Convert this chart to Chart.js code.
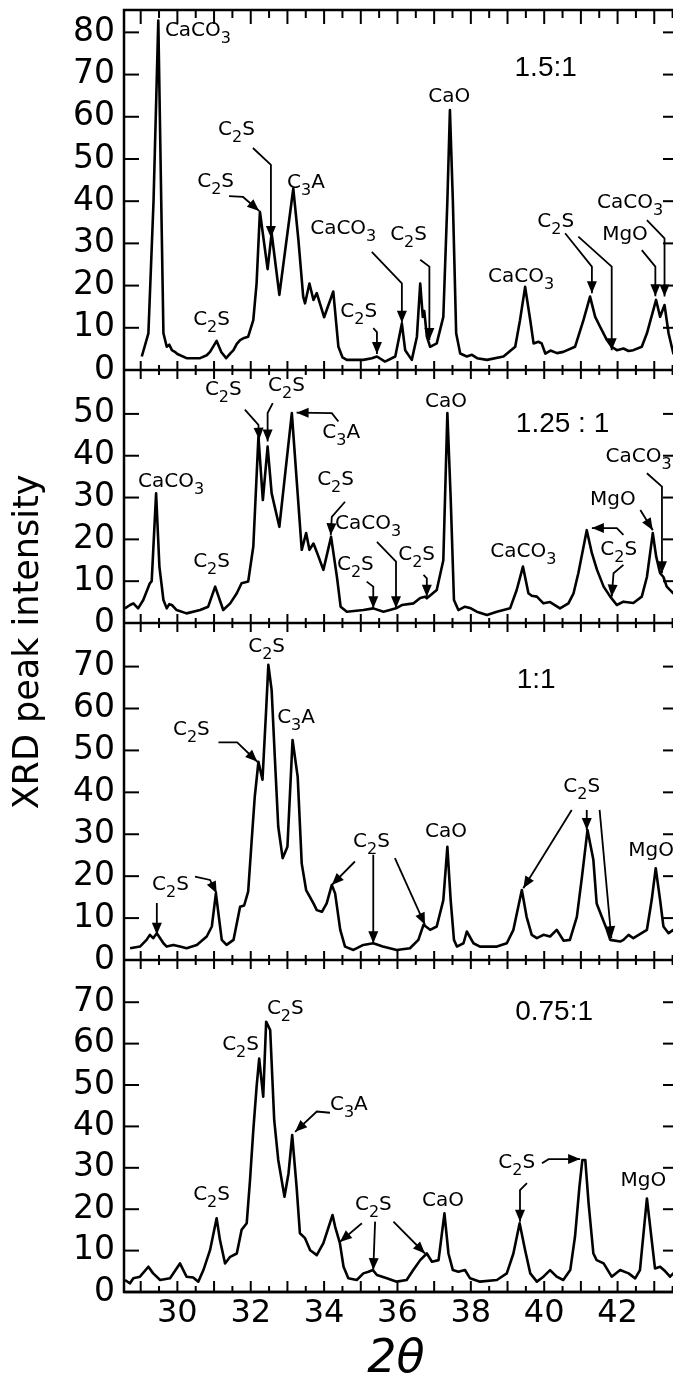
<!DOCTYPE html>
<html>
<head>
<meta charset="utf-8">
<script src="https://cdn.jsdelivr.net/npm/chart.js@4.4.1/dist/chart.umd.min.js"></script>
<style>
html, body { margin: 0; padding: 0; background: #fff; overflow: hidden; }
#wrap { position: relative; width: 673px; height: 1383px; overflow: hidden; }
canvas { position: absolute; left: 0; top: 0; }
</style>
</head>
<body>
<div id="wrap"><canvas id="chart" width="680" height="1383"></canvas></div>
<script>
// 2theta tick labels (bottom axis) and intensity ticks per panel
var xLabels = [30, 32, 34, 36, 38, 40, 42];
var ticksA = [0, 10, 20, 30, 40, 50, 60, 70, 80];
var ticksB = [0, 10, 20, 30, 40, 50];
var ticksC = [0, 10, 20, 30, 40, 50, 60, 70];
var ticksD = [0, 10, 20, 30, 40, 50, 60, 70];

// 1.5:1
var xA = [29.03, 29.21, 29.35, 29.48, 29.56, 29.62, 29.71, 29.78, 29.85, 29.93, 30.0, 30.25, 30.62, 30.80, 30.89, 31.07, 31.20, 31.33, 31.45, 31.53, 31.62, 31.71, 31.82, 31.93, 32.07, 32.16, 32.25, 32.46, 32.57, 32.78, 33.16, 33.30, 33.43, 33.48, 33.60, 33.71, 33.80, 34.0, 34.25, 34.39, 34.50, 34.62, 35.07, 35.30, 35.44, 35.66, 35.94, 36.12, 36.21, 36.39, 36.53, 36.62, 36.69, 36.73, 36.80, 36.89, 37.07, 37.25, 37.36, 37.43, 37.51, 37.60, 37.71, 37.89, 38.03, 38.17, 38.44, 38.89, 39.21, 39.34, 39.48, 39.62, 39.71, 39.84, 39.93, 40.03, 40.17, 40.35, 40.52, 40.84, 41.07, 41.25, 41.39, 41.52, 41.71, 41.84, 41.98, 42.16, 42.30, 42.43, 42.66, 42.80, 43.05, 43.16, 43.28, 43.39, 43.52, 43.62];
var yA = [3.2, 8.7, 40, 82.8, 40, 8.7, 5.5, 6.0, 4.7, 4.3, 3.8, 2.8, 2.8, 3.5, 4.3, 6.9, 4.2, 2.8, 4.0, 4.7, 6.2, 7.1, 7.6, 7.9, 11.8, 20.6, 37.5, 23.9, 32.4, 17.8, 43, 30.8, 17.4, 15.8, 20.5, 16.6, 18.2, 12.5, 18.6, 5.5, 3.0, 2.4, 2.4, 2.8, 3.2, 2.0, 3.2, 11, 4.7, 2.4, 7.9, 20.5, 12.6, 14, 8, 5.5, 6.3, 12.6, 40, 61.6, 40, 8.7, 3.9, 3.2, 3.6, 2.8, 2.4, 3.2, 5.5, 11.8, 19.7, 11.8, 6.3, 6.7, 6.3, 3.9, 4.6, 4.0, 4.3, 5.5, 11.8, 17.4, 12.6, 10.3, 7.1, 5.5, 4.7, 5.1, 4.5, 4.7, 5.5, 8.7, 16.6, 12.6, 15.4, 8.7, 3.9, 3.5];

// 1.25:1
var xB = [28.57, 28.71, 28.80, 28.93, 29.07, 29.25, 29.30, 29.42, 29.51, 29.62, 29.71, 29.78, 29.85, 29.98, 30.25, 30.62, 30.84, 31.03, 31.25, 31.44, 31.62, 31.75, 31.93, 32.07, 32.21, 32.33, 32.46, 32.57, 32.78, 33.12, 33.39, 33.51, 33.60, 33.71, 33.80, 33.98, 34.19, 34.35, 34.45, 34.62, 35.07, 35.34, 35.62, 35.96, 36.12, 36.44, 36.62, 36.75, 36.80, 37.07, 37.25, 37.36, 37.45, 37.54, 37.66, 37.84, 38.0, 38.16, 38.44, 38.71, 39.07, 39.25, 39.42, 39.57, 39.66, 39.80, 39.98, 40.16, 40.43, 40.66, 40.80, 40.93, 41.16, 41.30, 41.44, 41.62, 41.80, 41.98, 42.16, 42.43, 42.66, 42.80, 42.96, 43.05, 43.16, 43.25, 43.34, 43.52, 43.62];
var yB = [3.5, 4.3, 4.7, 3.5, 5.5, 9.5, 10, 31, 13.5, 5.5, 3.5, 4.5, 4.3, 3.1, 2.3, 3.1, 3.9, 8.7, 3.1, 4.7, 7.1, 9.5, 9.9, 18.3, 44.6, 29.4, 42.2, 31, 23, 50.2, 17.5, 21.5, 17.5, 19, 17, 12.7, 20.6, 11, 3.9, 2.7, 3.1, 3.5, 2.7, 3.5, 4.3, 4.7, 6.0, 6.3, 5.9, 7.9, 15, 50.2, 30, 5.5, 3.1, 3.9, 3.5, 2.7, 1.9, 2.7, 3.5, 7.9, 13.5, 7.1, 6.5, 6.3, 4.7, 5.0, 3.5, 4.7, 7.1, 11.9, 22.2, 16.7, 12.7, 8.7, 6.3, 4.3, 5.1, 4.8, 6.3, 11, 21.5, 16, 11.9, 11, 8.7, 7.1, 6.8];

// 1:1
var xC = [28.71, 28.98, 29.16, 29.25, 29.34, 29.44, 29.62, 29.71, 29.89, 30.07, 30.25, 30.53, 30.80, 30.94, 31.05, 31.21, 31.34, 31.53, 31.71, 31.82, 31.93, 32.02, 32.11, 32.21, 32.32, 32.42, 32.48, 32.57, 32.66, 32.75, 32.87, 33.00, 33.14, 33.28, 33.39, 33.51, 33.71, 33.80, 33.94, 34.07, 34.21, 34.30, 34.44, 34.57, 34.80, 35.07, 35.34, 35.60, 35.98, 36.34, 36.57, 36.71, 36.89, 37.07, 37.25, 37.36, 37.45, 37.54, 37.62, 37.80, 37.89, 38.07, 38.25, 38.71, 38.98, 39.16, 39.39, 39.52, 39.66, 39.80, 39.98, 40.16, 40.34, 40.53, 40.70, 40.89, 41.03, 41.18, 41.34, 41.43, 41.57, 41.71, 41.80, 42.07, 42.16, 42.30, 42.43, 42.80, 42.93, 43.04, 43.16, 43.25, 43.39, 43.52, 43.62];
var yC = [2.8, 3.2, 4.8, 6, 5.2, 6.4, 4, 3.2, 3.6, 3.2, 2.8, 3.6, 5.6, 8, 15.9, 4.8, 3.6, 4.8, 12.7, 13, 16.3, 27.8, 39, 47.3, 43, 59.7, 70.4, 64.4, 47.7, 31.8, 24.3, 27, 52.5, 43.7, 23, 16.7, 13.5, 11.9, 11.5, 13.5, 17.9, 15.9, 7.2, 3.2, 2.4, 3.6, 4, 3.2, 2.4, 2.8, 4.8, 8.4, 7.2, 8, 14.3, 27, 14.3, 4.8, 3.2, 4, 6.8, 4, 3.2, 3.2, 4, 7.2, 16.7, 10.3, 6, 5.2, 6.0, 5.6, 7.2, 4.6, 4.8, 10.3, 19.9, 31, 23.9, 13.5, 10.3, 7.2, 4.8, 4.4, 4.8, 6, 5.2, 7.2, 14.3, 21.9, 14.3, 8, 6.4, 7.2, 6.5];

// 0.75:1
var xD = [28.57, 28.71, 28.80, 28.98, 29.21, 29.34, 29.53, 29.80, 30.07, 30.25, 30.43, 30.57, 30.71, 30.89, 31.07, 31.16, 31.30, 31.44, 31.62, 31.75, 31.89, 31.98, 32.07, 32.16, 32.23, 32.34, 32.42, 32.53, 32.64, 32.75, 32.92, 33.03, 33.13, 33.25, 33.34, 33.48, 33.62, 33.80, 33.98, 34.23, 34.30, 34.43, 34.53, 34.66, 34.89, 35.07, 35.21, 35.33, 35.44, 35.71, 35.98, 36.25, 36.43, 36.62, 36.80, 36.94, 37.12, 37.28, 37.39, 37.51, 37.66, 37.84, 37.98, 38.25, 38.71, 38.98, 39.16, 39.33, 39.48, 39.62, 39.80, 39.98, 40.16, 40.34, 40.52, 40.71, 40.84, 40.96, 41.04, 41.12, 41.21, 41.34, 41.43, 41.62, 41.84, 42.07, 42.30, 42.48, 42.61, 42.80, 42.93, 43.02, 43.16, 43.30, 43.43, 43.52, 43.62];
var yD = [2.9, 2.1, 3.3, 3.7, 6.1, 4.5, 2.9, 3.3, 6.9, 3.7, 3.5, 2.5, 5.3, 10.1, 17.8, 12.6, 6.9, 8.5, 9.3, 15, 16.6, 27, 39.1, 49.6, 56.4, 47.2, 65.3, 63.3, 41.5, 31.9, 23, 28.7, 37.9, 25.4, 14.2, 13, 10.1, 8.9, 11.8, 18.6, 15.8, 11.8, 6.1, 3.3, 2.9, 4.5, 4.9, 5.3, 4.1, 3.3, 2.5, 2.9, 5.3, 7.7, 9.3, 7.3, 7.7, 19, 9.3, 5.3, 4.9, 5.3, 3.3, 2.5, 2.9, 4.5, 9.3, 16.6, 10.1, 4.5, 2.5, 3.7, 5.3, 3.7, 2.9, 5.3, 13.4, 25.4, 31.9, 31.9, 21.4, 9.3, 7.7, 6.9, 3.7, 5.3, 4.5, 3.3, 5.3, 22.6, 12.6, 5.7, 6.1, 5.0, 3.7, 4.5, 4.0];

// phase labels [text, 2theta, intensity] and arrows (lists of points), per panel
var notesA = [['CaCO3', 29.66, 80.3], ['C2S', 30.43, 11.8], ['C2S', 30.54, 44.5], ['C2S', 31.11, 56.9], ['C3A', 32.99, 44.3], ['CaCO3', 33.62, 33.4], ['C2S', 34.44, 13.7], ['C2S', 35.80, 32], ['CaO', 36.84, 64.7], ['CaCO3', 38.47, 22], ['C2S', 39.81, 35], ['MgO', 41.58, 32], ['CaCO3', 41.44, 39.6]];
var arrowsA = [
  [[31.41, 41.2], [31.79, 41], [32.23, 37.7]],
  [[32.06, 52.6], [32.55, 48.6], [32.55, 31.3]],
  [[35.30, 28.0], [36.12, 20.5], [36.12, 11.2]],
  [[35.34, 9.9], [35.44, 9.0], [35.44, 3.8]],
  [[36.62, 26.1], [36.87, 24.5], [36.87, 7.1]],
  [[40.57, 32.4], [41.30, 24.5], [41.30, 18.2]],
  [[40.93, 31.6], [41.84, 24.5], [41.84, 4.7]],
  [[42.66, 28.4], [43.03, 24.5], [43.03, 17.5]],
  [[42.80, 35.5], [43.28, 31.2], [43.28, 17.4]]
];
var notesB = [['CaCO3', 28.93, 33.7], ['C2S', 30.43, 14.6], ['C2S', 30.75, 55.7], ['C2S', 32.47, 56.7], ['C3A', 33.95, 45.5], ['C2S', 33.81, 34.2], ['CaCO3', 34.30, 23.7], ['C2S', 34.35, 13.9], ['C2S', 36.02, 16.3], ['CaO', 36.75, 53], ['CaCO3', 38.53, 17], ['C2S', 41.53, 17.5], ['MgO', 41.25, 29.4], ['CaCO3', 41.67, 39.7]];
var arrowsB = [
  [[31.84, 51], [32.21, 47.4], [32.23, 43.8]],
  [[32.60, 52.6], [32.46, 50.2], [32.46, 43.4]],
  [[34.39, 48.2], [34.21, 50.2], [33.25, 50.3]],
  [[34.57, 29], [34.21, 25.4], [34.18, 21]],
  [[35.44, 19.4], [35.96, 14.7], [35.96, 3.5]],
  [[35.16, 9.9], [35.34, 8.7], [35.34, 3.5]],
  [[36.71, 11.5], [36.80, 10.7], [36.80, 6.3]],
  [[42.16, 21.1], [41.98, 22.7], [41.30, 22.7]],
  [[42.16, 13.9], [41.89, 11.9], [41.84, 6.3]],
  [[42.62, 27], [42.96, 22.2]],
  [[42.80, 35.8], [43.21, 32.6], [43.21, 11.9]]
];
var notesC = [['C2S', 31.93, 74.7], ['C2S', 29.88, 54.9], ['C3A', 32.72, 57.8], ['C2S', 29.31, 17.9], ['C2S', 34.79, 28.2], ['CaO', 36.75, 30.5], ['C2S', 40.52, 41.3], ['MgO', 42.29, 26]];
var arrowsC = [
  [[31.12, 51.9], [31.63, 51.9], [32.18, 47.3]],
  [[29.44, 13.6], [29.44, 6.0]],
  [[30.48, 19.9], [30.89, 19.1], [31.07, 15.9]],
  [[34.84, 23.5], [34.21, 17.9]],
  [[35.34, 25.1], [35.34, 4.0]],
  [[35.93, 24.3], [36.75, 8.4]],
  [[40.75, 35.8], [39.43, 17.1]],
  [[41.16, 35.8], [41.16, 31]],
  [[41.51, 35.8], [41.83, 5.2]]
];
var notesD = [['C2S', 32.44, 68.4], ['C2S', 31.22, 59.7], ['C3A', 34.16, 45.2], ['C2S', 30.43, 23.4], ['C2S', 34.84, 21], ['CaO', 36.67, 22], ['C2S', 38.75, 31.2], ['MgO', 42.08, 26.8]];
var arrowsD = [
  [[34.16, 43.3], [33.80, 43.6], [33.21, 38.7]],
  [[35.03, 16.6], [34.43, 12.1]],
  [[35.39, 17], [35.34, 5.3]],
  [[35.89, 17], [36.75, 9.3]],
  [[39.53, 26.3], [39.34, 24.6], [39.34, 17]],
  [[39.94, 31.1], [40.12, 32.1], [40.98, 32.1]]
];

var panels = [
  { id: 'yA', ratio: '1.5:1', rx: 40.04, ry: 71.6, ticks: ticksA, notes: notesA, arrows: arrowsA },
  { id: 'yB', ratio: '1.25 : 1', rx: 40.50, ry: 47.6, ticks: ticksB, notes: notesB, arrows: arrowsB },
  { id: 'yC', ratio: '1:1', rx: 39.78, ry: 66.8, ticks: ticksC, notes: notesC, arrows: arrowsC },
  { id: 'yD', ratio: '0.75:1', rx: 40.27, ry: 67.6, ticks: ticksD, notes: notesD, arrows: arrowsD }
];

function pts(xs, ys) {
  return xs.map(function (x, i) { return { x: x, y: ys[i] }; });
}

function line(ctx, x1, y1, x2, y2) {
  ctx.beginPath(); ctx.moveTo(x1, y1); ctx.lineTo(x2, y2); ctx.stroke();
}

// chemical formula with lowered digits
function chem(ctx, text, x, y) {
  var cx = x;
  for (var i = 0; i < text.length; i++) {
    var ch = text[i], sub = /[0-9]/.test(ch);
    ctx.font = (sub ? 16 : 20) + 'px "DejaVu Sans"';
    ctx.fillText(ch, cx, y + (sub ? 8 : 0));
    cx += ctx.measureText(ch).width;
  }
}

function arrow(ctx, p) {
  ctx.beginPath();
  ctx.moveTo(p[0][0], p[0][1]);
  for (var i = 1; i < p.length; i++) ctx.lineTo(p[i][0], p[i][1]);
  ctx.stroke();
  var a = p[p.length - 2], b = p[p.length - 1];
  var ang = Math.atan2(b[1] - a[1], b[0] - a[0]), L = 12, W = 5;
  ctx.beginPath();
  ctx.moveTo(b[0], b[1]);
  ctx.lineTo(b[0] - L * Math.cos(ang) + W * Math.sin(ang), b[1] - L * Math.sin(ang) - W * Math.cos(ang));
  ctx.lineTo(b[0] - L * Math.cos(ang) - W * Math.sin(ang), b[1] - L * Math.sin(ang) + W * Math.cos(ang));
  ctx.closePath();
  ctx.fill();
}

var frame = {
  id: 'frame',
  afterDatasetsDraw: function (chart) {
    var ctx = chart.ctx, a = chart.chartArea, xs = chart.scales.x;
    ctx.save();
    ctx.strokeStyle = '#000';
    ctx.lineWidth = 2.5;
    ctx.strokeRect(a.left, a.top, a.right - a.left, a.bottom - a.top);
    panels.forEach(function (p) {
      var s = chart.scales[p.id];
      line(ctx, a.left, s.bottom, a.right, s.bottom);
    });
    ctx.lineWidth = 2;
    for (var v = 29; v <= 43.5; v += 0.5) {
      var px = xs.getPixelForValue(v), major = v % 1 === 0;
      line(ctx, px, a.top, px, a.top + (major ? 14 : 8));
      line(ctx, px, a.bottom, px, a.bottom - (major ? 11 : 6));
      for (var k = 0; k < panels.length - 1; k++) {
        var yb = chart.scales[panels[k].id].bottom, h = major ? 9 : 5;
        line(ctx, px, yb - h, px, yb + h);
      }
    }
    panels.forEach(function (p) {
      var s = chart.scales[p.id];
      p.ticks.forEach(function (t) {
        if (!t) return;
        var py = s.getPixelForValue(t);
        line(ctx, a.left, py, a.left + 15, py);
        line(ctx, a.right - 14, py, a.right, py);
      });
    });
    ctx.restore();
  },
  afterDraw: function (chart) {
    var ctx = chart.ctx, xs = chart.scales.x;
    ctx.save();
    ctx.fillStyle = '#000';
    ctx.strokeStyle = '#000';
    ctx.lineWidth = 1.8;
    ctx.textBaseline = 'middle';
    panels.forEach(function (p) {
      var s = chart.scales[p.id];
      ctx.textAlign = 'left';
      p.notes.forEach(function (n) {
        chem(ctx, n[0], xs.getPixelForValue(n[1]), s.getPixelForValue(n[2]));
      });
      p.arrows.forEach(function (ar) {
        arrow(ctx, ar.map(function (q) { return [xs.getPixelForValue(q[0]), s.getPixelForValue(q[1])]; }));
      });
      ctx.textAlign = 'center';
      ctx.font = '28px "Liberation Sans"';
      ctx.fillText(p.ratio, xs.getPixelForValue(p.rx), s.getPixelForValue(p.ry));
    });
    // axis titles
    ctx.textAlign = 'center';
    ctx.font = 'italic 46px "DejaVu Sans"';
    ctx.fillText('2\u03B8', 396, 1360);
    ctx.translate(29, 642);
    ctx.rotate(-Math.PI / 2);
    ctx.font = '35px "DejaVu Sans"';
    ctx.fillText('XRD peak intensity', 0, 0);
    ctx.restore();
  }
};

function yAxis(max, ticks, weight) {
  return {
    type: 'linear', position: 'left', stack: 'xrd', stackWeight: weight,
    min: 0, max: max,
    grid: { display: false, drawTicks: false },
    border: { display: false },
    ticks: { font: { family: 'DejaVu Sans', size: 33 }, color: '#000', padding: 9, autoSkip: false },
    afterBuildTicks: function (s) { s.ticks = ticks.map(function (v) { return { value: v }; }); },
    afterFit: function (s) { s.width = 124; s.paddingTop = 0; s.paddingBottom = 0; }
  };
}

function series(id, xs, ys) {
  return {
    data: pts(xs, ys), xAxisID: 'x', yAxisID: id,
    borderColor: '#000', borderWidth: 2.6, pointRadius: 0,
    tension: 0, borderJoinStyle: 'round', fill: false
  };
}

new Chart(document.getElementById('chart'), {
  type: 'line',
  data: {
    datasets: [
      series('yA', xA, yA),
      series('yB', xB, yB),
      series('yC', xC, yC),
      series('yD', xD, yD)
    ]
  },
  options: {
    responsive: false,
    devicePixelRatio: 1,
    animation: false,
    layout: { padding: { top: 10, right: 3, left: 0, bottom: 0 } },
    plugins: { legend: { display: false }, tooltip: { enabled: false } },
    scales: {
      x: {
        type: 'linear', position: 'bottom', min: 28.545, max: 43.62,
        grid: { display: false, drawTicks: false },
        border: { display: false },
        ticks: { font: { family: 'DejaVu Sans', size: 32 }, color: '#000', padding: 2, maxRotation: 0, autoSkip: false },
        afterBuildTicks: function (s) { s.ticks = xLabels.map(function (v) { return { value: v }; }); },
        afterFit: function (s) { s.height = 91; s.paddingLeft = 0; s.paddingRight = 0; }
      },
      // listed bottom panel first: the last stacked axis is laid out on top
      yD: yAxis(80.2, ticksD, 332),
      yC: yAxis(80.4, ticksC, 337),
      yB: yAxis(60.5, ticksB, 253),
      yA: yAxis(85.3, ticksA, 360)
    }
  },
  plugins: [frame]
});
</script>
</body>
</html>
